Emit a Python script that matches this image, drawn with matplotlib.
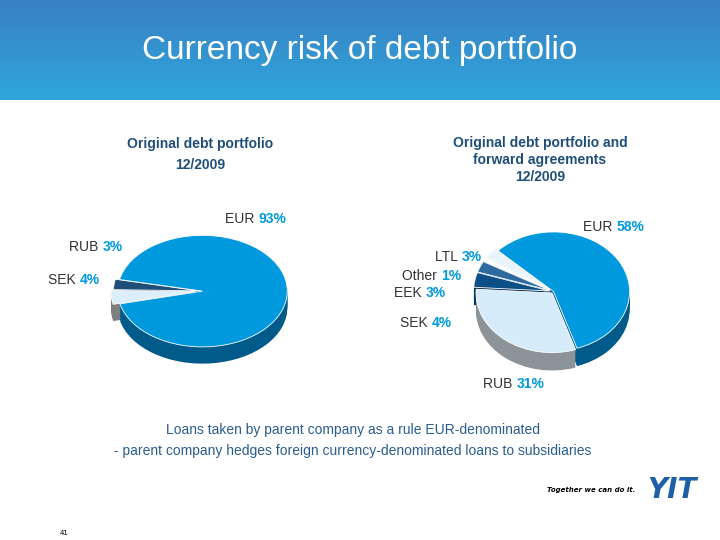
import matplotlib
matplotlib.use("Agg")
import matplotlib.pyplot as plt
import numpy as np

left_labels = ['RUB', 'SEK', 'EUR']
left_values = [3, 4, 93]
left_colors = ['#1f4e79', '#dbeefa', '#0099dd']
left_sides = ['#12304d', '#7f7f7f', '#005a8a']

right_labels = ['EUR', 'LTL', 'Other', 'EEK', 'SEK', 'RUB']
right_values = [58, 3, 1, 3, 4, 31]
right_colors = ['#0099dd', '#eaf4fb', '#ffffff', '#2d6aa0', '#0b4f86', '#d6ecfa']
right_sides = ['#005a8a', '#9aa7b0', '#b0b0b0', '#1b4670', '#083659', '#8c9499']

BLUE = '#0099dd'

fig = plt.figure(figsize=(7.2, 5.4), dpi=100)
bg = fig.add_axes([0, 0, 1, 1])
bg.set_xlim(0, 720)
bg.set_ylim(540, 0)
bg.axis('off')

# header gradient band
grad = np.linspace(0, 1, 100).reshape(-1, 1)
bg.imshow(grad, extent=[0, 720, 100, 0], cmap=matplotlib.colors.LinearSegmentedColormap.from_list(
    'h', ['#3a80c2', '#2ea6dc']), aspect='auto', zorder=0)
bg.set_ylim(540, 0)
bg.text(360, 50, 'Currency risk of debt portfolio', color='white', fontsize=24,
        ha='center', va='center', family='Liberation Sans')


def pie3d(rect, values, colors, sides, start, explode, depth=0.3):
    ax = fig.add_axes(rect)
    for k in np.linspace(depth, 0.01, 12):
        ax.pie(values, colors=sides, startangle=start, counterclock=True,
               center=(0, -k), explode=explode,
               wedgeprops=dict(linewidth=0))
    ax.pie(values, colors=colors, startangle=start, counterclock=True,
           explode=explode, wedgeprops=dict(linewidth=0.6, edgecolor='white'))
    ax.set_xlim(-1.15, 1.15)
    ax.set_ylim(-1.45, 1.15)
    ax.set_aspect('auto')
    ax.axis('off')


def label(x, y, name, pct):
    t = bg.text(x, y, name + ' ', fontsize=10, color='#333333', va='center', family='Liberation Sans')
    fig.canvas.draw()
    bb = t.get_window_extent()
    x2 = bg.transData.inverted().transform((bb.x1, bb.y0))[0]
    bg.text(x2, y, f'{pct}%', fontsize=10, color=BLUE, weight='bold', va='center',
            family='Liberation Sans')


# left pie
pie3d([105 / 720, 1 - 372 / 540, 195 / 720, 145 / 540], left_values, left_colors,
      left_sides, 168, [0.05, 0.08, 0], depth=0.3)
# right pie
pie3d([466 / 720, 1 - 378 / 540, 175 / 720, 155 / 540], right_values, right_colors,
      right_sides, -72, [0, 0.05, 0.05, 0.05, 0.05, 0.03], depth=0.3)

bg.text(200, 144, 'Original debt portfolio', color='#1f4e79', fontsize=10, ha='center',
        va='center', weight='bold', family='Liberation Sans')
bg.text(200, 165, '12/2009', color='#1f4e79', fontsize=10, ha='center', va='center',
        weight='bold', family='Liberation Sans')
for i, s in enumerate(['Original debt portfolio and', 'forward agreements', '12/2009']):
    bg.text(540, 143 + 17 * i, s, color='#1f4e79', fontsize=10, ha='center', va='center',
            weight='bold', family='Liberation Sans')

label(225, 219, 'EUR', left_values[2])
label(69, 247, 'RUB', left_values[0])
label(48, 280, 'SEK', left_values[1])
label(583, 227, 'EUR', right_values[0])
label(435, 257, 'LTL', right_values[1])
label(402, 276, 'Other', right_values[2])
label(394, 293, 'EEK', right_values[3])
label(400, 323, 'SEK', right_values[4])
label(483, 384, 'RUB', right_values[5])

bg.text(353, 430, 'Loans taken by parent company as a rule EUR-denominated', color='#2a5d8f',
        fontsize=10, ha='center', va='center', family='Liberation Sans')
bg.text(353, 451, '- parent company hedges foreign currency-denominated loans to subsidiaries',
        color='#2a5d8f', fontsize=10, ha='center', va='center', family='Liberation Sans')

bg.text(635, 490, 'Together we can do it.', fontsize=5, weight='bold', style='italic',
        ha='right', va='center')
bg.text(672, 490, 'YIT', fontsize=20, weight='bold', color='#1f5fa8', ha='center', va='center',
        style='italic')
bg.text(60, 533, '41', fontsize=5, ha='left', va='center')

fig.savefig('out.png', dpi=100)
